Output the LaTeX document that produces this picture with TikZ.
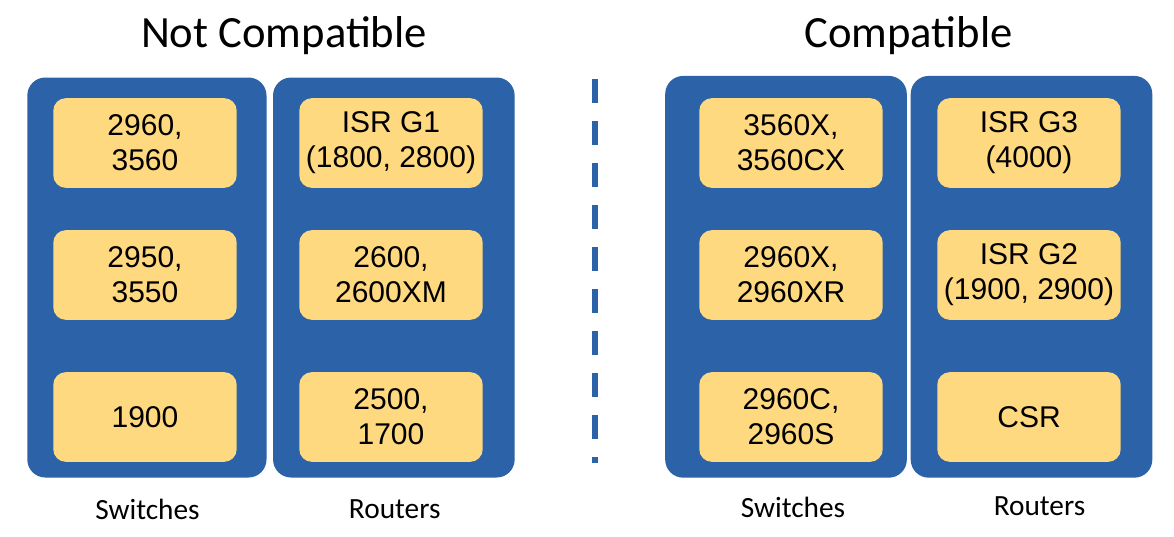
\documentclass[tikz,border=0pt]{standalone}
\usepackage{fontspec}
\setmainfont{Carlito}
\newfontfamily\arialfont{Liberation Sans}
\definecolor{panelblue}{RGB}{43,98,168}
\definecolor{boxyellow}{RGB}{255,217,127}
\begin{document}
\begin{tikzpicture}[x=0.75pt, y=-0.75pt,
    panel/.style={fill=panelblue, rounded corners=13.5pt, minimum width=181.2pt, minimum height=300pt, inner sep=0pt},
    model/.style={fill=boxyellow, rounded corners=9.5pt, minimum width=137.6pt, minimum height=67.3pt, inner sep=0pt, align=center, font=\arialfont\fontsize{22.5}{26.25}\selectfont},
    heading/.style={anchor=base, font=\fontsize{33.5}{40}\selectfont},
    kind/.style={anchor=base, font=\fontsize{22}{26}\selectfont}]
\useasboundingbox (0,0) rectangle (1174,536);
% titles
\node[heading] (nottitle) at (284,47) {Not Compatible};
\node[heading] (oktitle) at (908.6,47) {Compatible};
% panels
\node[panel, minimum width=179.4pt] (noswitch) at (146.9,277.5) {};
\node[panel] (norouter) at (393.85,277.5) {};
\node[panel, minimum height=301.3pt] (okswitch) at (786,276.8) {};
\node[panel, minimum height=301.3pt] (okrouter) at (1031.5,276.8) {};
% models, not compatible
\node[model] (ns1) at (145,143) {2960,\\3560};
\node[model] (ns2) at (145,275) {2950,\\3550};
\node[model] (ns3) at (145,417) {1900};
\node[model] (nr1) at (391,143) {ISR G1\\(1800, 2800)};
\node[model] (nr2) at (391,275) {2600,\\2600XM};
\node[model] (nr3) at (391,417) {2500,\\1700};
% models, compatible
\node[model] (os1) at (791,143) {3560X,\\3560CX};
\node[model] (os2) at (791,275) {2960X,\\2960XR};
\node[model] (os3) at (791,417) {2960C,\\2960S};
\node[model] (or1) at (1029,143) {ISR G3\\(4000)};
\node[model] (or2) at (1029,275) {ISR G2\\(1900, 2900)};
\node[model] (or3) at (1029,417) {CSR};
% labels
\node[kind] (nsl) at (147.5,519) {Switches};
\node[kind] (nrl) at (394.7,518) {Routers};
\node[kind] (osl) at (793,517) {Switches};
\node[kind] (orl) at (1039.5,515) {Routers};
% divider
\coordinate (dtop) at (594.7,79);
\coordinate (dbot) at (594.7,463.3);
\draw[panelblue, line width=4.5pt, dash pattern=on 17.8pt off 13.7pt] (dtop) -- (dbot);
\end{tikzpicture}
\end{document}
